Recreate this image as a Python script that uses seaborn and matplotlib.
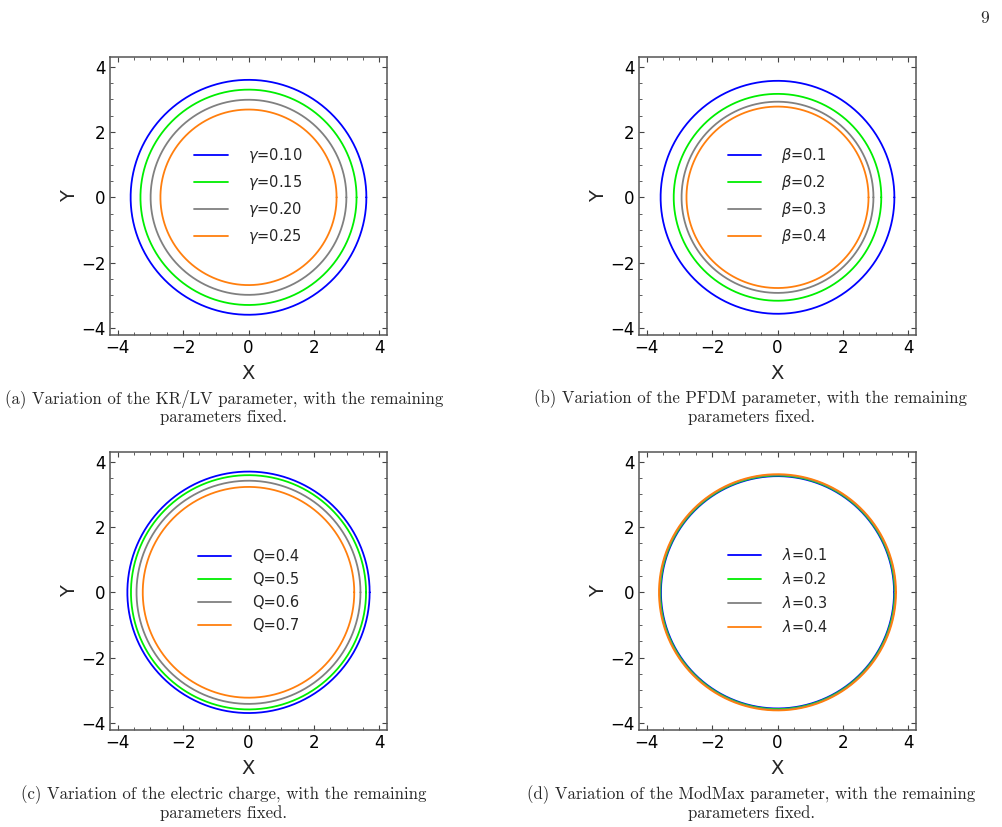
import numpy as np
import pandas as pd
import seaborn as sns
import matplotlib.pyplot as plt

# radii, one list per panel
radios_a = [3.60, 3.30, 2.99, 2.69]
rotulos_a = [r'$\gamma$=0.10', r'$\gamma$=0.15', r'$\gamma$=0.20', r'$\gamma$=0.25']

radios_b = [3.57, 3.17, 2.93, 2.78]
rotulos_b = [r'$\beta$=0.1', r'$\beta$=0.2', r'$\beta$=0.3', r'$\beta$=0.4']

radios_c = [3.70, 3.59, 3.42, 3.23]
rotulos_c = ['Q=0.4', 'Q=0.5', 'Q=0.6', 'Q=0.7']

radios_d = [3.56, 3.58, 3.60, 3.62]
rotulos_d = [r'$\lambda$=0.1', r'$\lambda$=0.2', r'$\lambda$=0.3', r'$\lambda$=0.4']

legendas = [
    "(a) Variation of the KR/LV parameter, with the remaining\nparameters fixed.",
    "(b) Variation of the PFDM parameter, with the remaining\nparameters fixed.",
    "(c) Variation of the electric charge, with the remaining\nparameters fixed.",
    "(d) Variation of the ModMax parameter, with the remaining\nparameters fixed.",
]

cores = ["#0000ff", "#00ee00", "#808080", "#ff7f0e"]

sns.set_style("ticks")
plt.rcParams.update({
    "font.family": ["DejaVu Sans"],
    "xtick.direction": "in", "ytick.direction": "in",
    "xtick.top": True, "ytick.right": True,
    "xtick.minor.visible": True, "ytick.minor.visible": True,
    "xtick.major.size": 3.5, "ytick.major.size": 3.5,
    "xtick.minor.size": 2, "ytick.minor.size": 2,
    "xtick.color": "#444444", "ytick.color": "#444444",
    "xtick.labelcolor": "black", "ytick.labelcolor": "black",
    "axes.edgecolor": "#555555", "axes.linewidth": 1.1,
})


def circulos(radios, rotulos):
    theta = np.linspace(0, 2 * np.pi, 400)
    partes = []
    for r, rot in zip(radios, rotulos):
        partes.append(pd.DataFrame({"x": r * np.cos(theta), "y": r * np.sin(theta),
                                    "curva": rot}))
    return pd.concat(partes, ignore_index=True)


def plotar_painel(ax, radios, rotulos):
    df = circulos(radios, rotulos)
    sns.lineplot(data=df, x="x", y="y", hue="curva", palette=cores, sort=False,
                 estimator=None, linewidth=1.3, ax=ax)
    ax.set_xlim(-4.23, 4.23)
    ax.set_ylim(-4.22, 4.3)
    ax.set_xticks([-4, -2, 0, 2, 4])
    ax.set_yticks([-4, -2, 0, 2, 4])
    ax.tick_params(labelsize=12, pad=3)
    ax.set_xlabel("X", fontsize=14, labelpad=5)
    ax.set_ylabel("Y", fontsize=14, labelpad=2)
    ax.legend(loc="center", frameon=False, fontsize=10.5, handlelength=2.3,
              labelspacing=0.55, handletextpad=1.4)


fig = plt.figure(figsize=(10.02, 8.27), dpi=100)
W, H = 1002, 827
posicoes = [(110, 57), (639, 57), (110, 452), (639, 452)]
paineis = [(radios_a, rotulos_a), (radios_b, rotulos_b),
           (radios_c, rotulos_c), (radios_d, rotulos_d)]
centros_legenda = [(224, 407), (751, 407), (224, 803), (751, 803)]

for (px, py), (radios, rotulos), texto, (cx, cy) in zip(posicoes, paineis, legendas, centros_legenda):
    ax = fig.add_axes([px / W, 1 - (py + 278) / H, 277 / W, 278 / H])
    plotar_painel(ax, radios, rotulos)
    fig.text(cx / W, 1 - cy / H, texto, ha="center", va="center", family="cmr10",
             fontsize=12.1, linespacing=1.1)

fig.text(985 / W, 1 - 18 / H, "9", ha="center", va="center", family="cmr10", fontsize=12.5)

fig.savefig("out.png", dpi=100)
